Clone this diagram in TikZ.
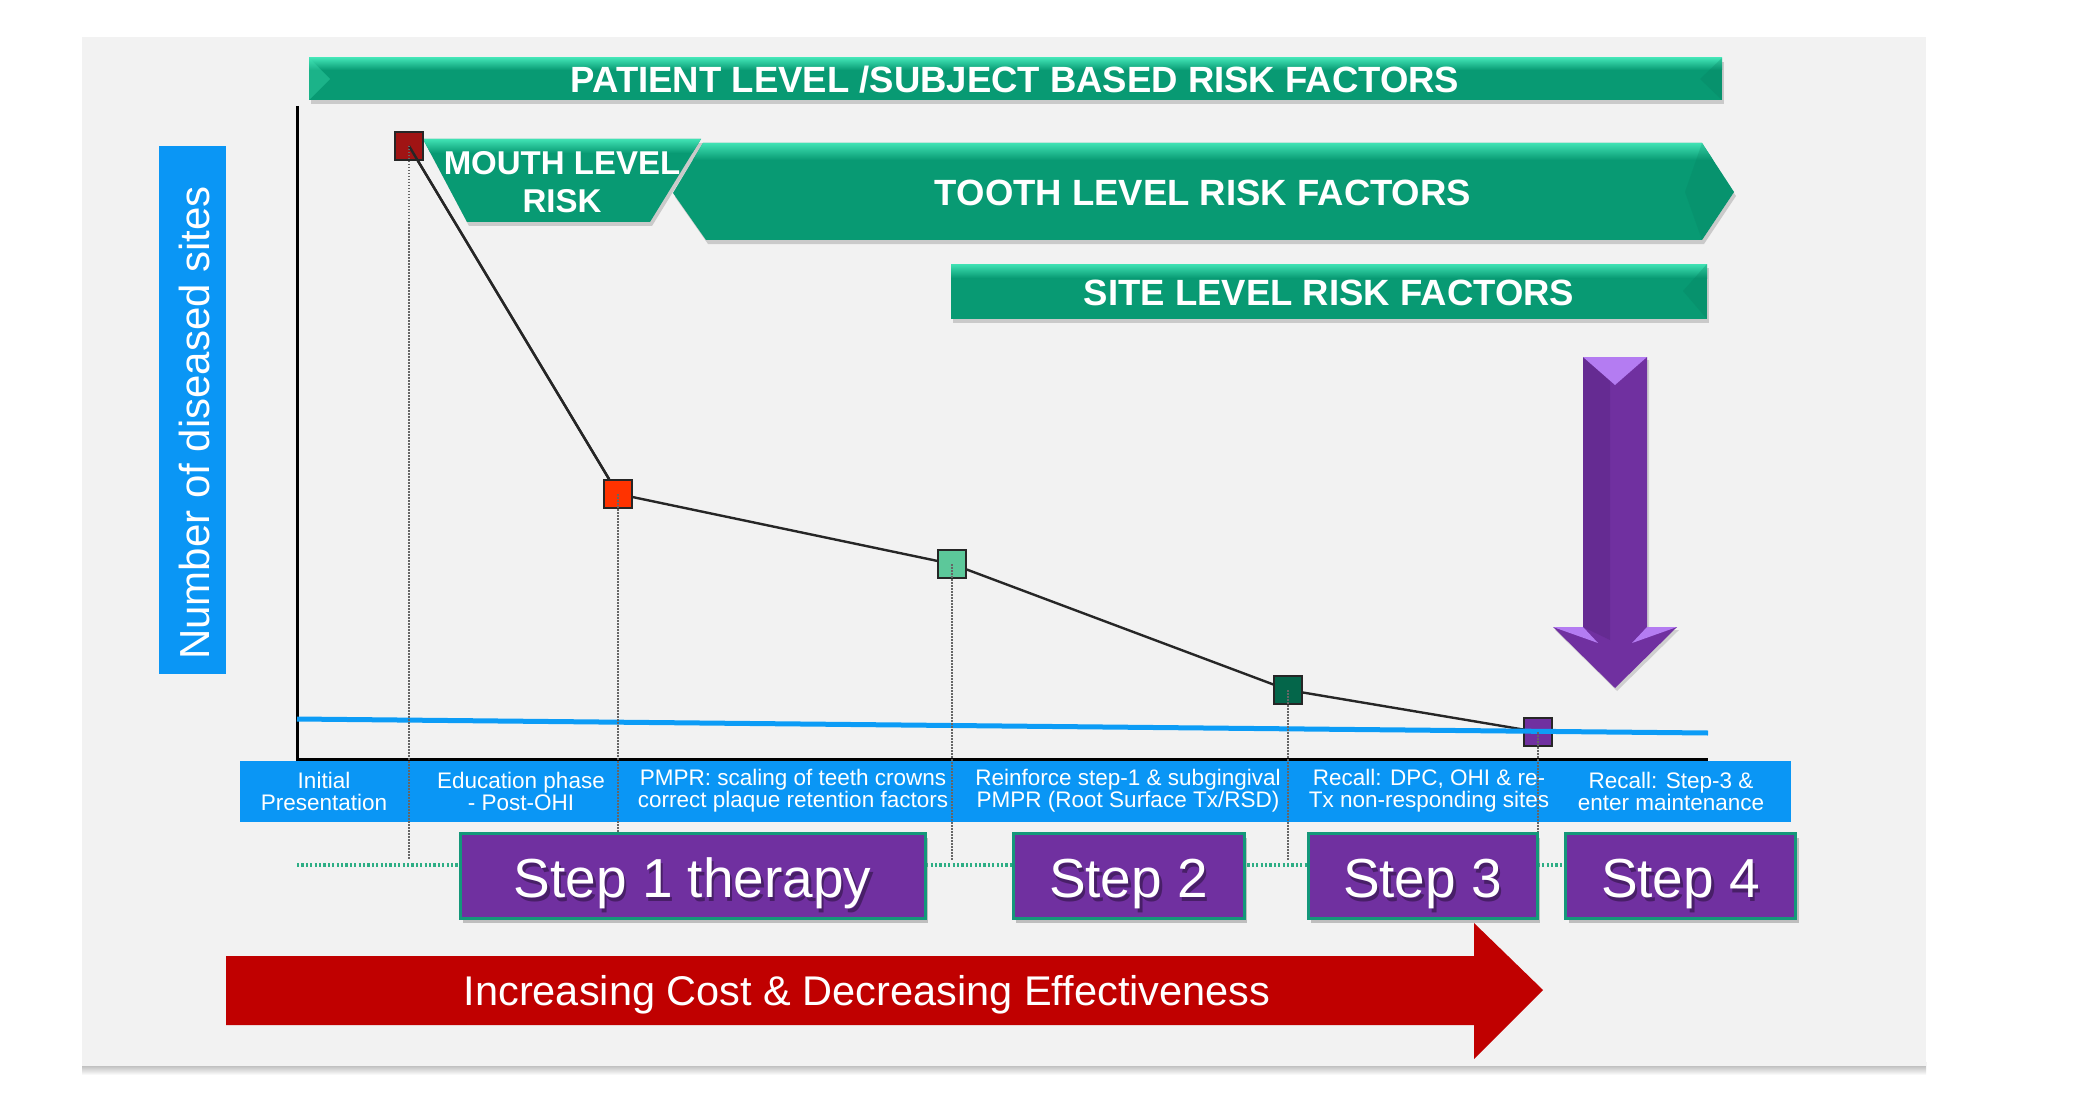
\documentclass[tikz,border=0pt]{standalone}
\usepackage{fontspec}
\setmainfont{Liberation Sans}
\usetikzlibrary{shadows,calc}
\definecolor{bgc}{HTML}{F2F2F2}
\definecolor{grn}{HTML}{089A73}
\definecolor{grnl}{HTML}{40E2B4}
\definecolor{blu}{HTML}{0A96F5}
\definecolor{bline}{HTML}{0C9CF6}
\definecolor{pur}{HTML}{7030A0}
\definecolor{purd}{HTML}{652B92}
\definecolor{purl}{HTML}{B47CF2}
\definecolor{redc}{HTML}{C00000}
\definecolor{stepb}{HTML}{14977A}
\definecolor{gdot}{HTML}{2EAE85}
\definecolor{mk0}{HTML}{A01414}
\definecolor{mk1}{HTML}{FF3300}
\definecolor{mk2}{HTML}{5CC89A}
\definecolor{mk3}{HTML}{04664A}
\begin{document}
\begin{tikzpicture}[x=1pt,y=-1pt,
  gshadow/.style={drop shadow={opacity=0.35,shadow xshift=2pt,shadow yshift=-4pt}},
  bartext/.style={text=white,font=\bfseries\fontsize{36.5}{40}\selectfont,inner sep=0pt},
  lbl/.style={text=white,align=center,font=\fontsize{22.5}{22}\selectfont,inner sep=0pt},
  mk/.style={draw=black!85,line width=2.2pt,minimum size=28pt,inner sep=0pt},
  stepbox/.style={fill=pur,draw=stepb,line width=3pt,minimum height=85pt,inner sep=0pt,
     drop shadow={opacity=0.45,shadow xshift=3pt,shadow yshift=-5pt}},
  sttext/.style={text=white,font=\fontsize{55}{60}\selectfont,inner sep=0pt,anchor=base},
  stshadow/.style={text=black,text opacity=0.35,font=\fontsize{55}{60}\selectfont,inner sep=0pt,anchor=base},
  vdot/.style={draw=black!60,line width=1.3pt,dash pattern=on 1.5pt off 1.5pt},
]
\useasboundingbox (0,0) rectangle (2080,1102);
\fill[white] (0,0) rectangle (2080,1102);
% panel
\shade[top color=black!35,bottom color=white] (82,1062) rectangle (1926,1075);
\fill[bgc] (82,37) rectangle (1926,1066);

% patient bar
\path[fill=grn,gshadow] (309,58) rectangle (1722,100);
\shade[top color=grnl,bottom color=grn] (309,58) rectangle (1722,70);
\fill[grn!80!black,opacity=0.25] (1722,58) -- (1700,79) -- (1722,100) -- cycle;
\fill[grnl,opacity=0.35] (309,58) -- (330,79) -- (309,100) -- cycle;
\node[bartext] (patient) at (1015,80) {PATIENT LEVEL /SUBJECT BASED RISK FACTORS};

% mouth trapezoid
\path[fill=grn,gshadow] (423,139) -- (701,139) -- (650,222) -- (467,222) -- cycle;
\begin{scope}
\clip (423,139) -- (701,139) -- (650,222) -- (467,222) -- cycle;
\shade[top color=grnl,bottom color=grn] (400,139) rectangle (720,153);
\end{scope}
\node[bartext,align=center,font=\bfseries\fontsize{33}{38}\selectfont] (mouth) at (562,182) {MOUTH LEVEL\\RISK};

% tooth arrow
\path[fill=grn,gshadow] (703,143) -- (1702,143) -- (1734,192) -- (1702,240) -- (706,240) -- (673,193) -- cycle;
\begin{scope}
\clip (703,143) -- (1702,143) -- (1734,192) -- (1702,240) -- (706,240) -- (673,193) -- cycle;
\shade[top color=grnl,bottom color=grn] (660,143) rectangle (1740,160);
\fill[grn!80!black,opacity=0.2] (1702,143) -- (1734,192) -- (1702,240) -- (1685,192) -- cycle;
\end{scope}
\node[bartext] (tooth) at (1203,193) {TOOTH LEVEL RISK FACTORS};

% site bar
\path[fill=grn,gshadow] (951,264) rectangle (1707,319);
\shade[top color=grnl,bottom color=grn] (951,264) rectangle (1707,278);
\fill[grn!80!black,opacity=0.25] (1707,264) -- (1683,291) -- (1707,319) -- cycle;
\node[bartext] (site) at (1329,293) {SITE LEVEL RISK FACTORS};

% y-axis label
\fill[blu] (159,146) rectangle (226,674);
\node[text=white,rotate=90,font=\fontsize{42}{46}\selectfont,inner sep=0pt] (ylab) at (194,423) {Number of diseased sites};

% purple down arrow
\path[fill=pur,drop shadow={opacity=0.3,shadow xshift=2pt,shadow yshift=-3pt}]
  (1583,357) -- (1647,357) -- (1647,627) -- (1677,627) -- (1615,688) -- (1553,627) -- (1583,627) -- cycle;
\fill[purd] (1583,357) -- (1610,357) -- (1610,640) -- (1583,627) -- cycle;
\fill[purl] (1583,357) -- (1647,357) -- (1615,385) -- cycle;
\fill[purl] (1553,627) -- (1583,627) -- (1598,643) -- cycle;
\fill[purl] (1677,627) -- (1647,627) -- (1632,643) -- cycle;

% axes
\coordinate (o) at (297,759);
\draw[line width=3pt] (297,106) -- (o) -- (1708,759);

% data points
\coordinate (c0) at (409,146);
\coordinate (c1) at (618,494);
\coordinate (c2) at (952,564);
\coordinate (c3) at (1288,690);
\coordinate (c4) at (1538,732);
\draw[line width=2.4pt,black!85] (c0) -- (c1) -- (c2) -- (c3) -- (c4);
\node[mk,fill=mk0] (p0) at (c0) {};
\node[mk,fill=mk1] (p1) at (c1) {};
\node[mk,fill=mk2] (p2) at (c2) {};
\node[mk,fill=mk3] (p3) at (c3) {};
\node[mk,fill=pur] (p4) at (c4) {};
\draw[line width=2.4pt,black!85] (p0.center) -- (p1);
% blue baseline
\draw[bline,line width=5pt] (297,719) -- (1708,733);

% label bar
\fill[blu] (240,761) rectangle (1791,822);
\node[lbl] (t0) at (324,791) {Initial\\Presentation};
\node[lbl] (t1) at (521,791) {Education phase\\- Post-OHI};
\node[lbl] (t2) at (793,791) {PMPR: scaling of teeth crowns\\correct plaque retention factors};
\node[lbl] (t3) at (1128,791) {Reinforce step-1 \& subgingival\\PMPR (Root Surface Tx/RSD)};
\node[lbl] (t4) at (1429,791) {Recall: DPC, OHI \& re-\\Tx non-responding sites};
\node[lbl] (t5) at (1671,791) {Recall: Step-3 \&\\enter maintenance};

% vertical dotted guides
\foreach \i in {0,...,4} {\draw[vdot] (p\i.center) -- (p\i.center |- 0,860);}

% green dotted line
\draw[gdot,line width=3.5pt,dash pattern=on 2.2pt off 2.2pt] (297,865) -- (1566,865);

% steps
\node[stepbox,minimum width=465pt] (s1) at (692.5,875.5) {};
\node[stepbox,minimum width=231pt] (s2) at (1128.5,875.5) {};
\node[stepbox,minimum width=229pt] (s3) at (1422.5,875.5) {};
\node[stepbox,minimum width=230pt] (s4) at (1680.5,875.5) {};
\foreach \s/\t in {s1/Step 1 therapy,s2/Step 2,s3/Step 3,s4/Step 4} {
  \node[stshadow] at ($(\s.center)+(2.5,25.5)$) {\t};
  \node[sttext] at ($(\s.center)+(0,22)$) {\t};
}

% red arrow
\fill[redc] (226,956) -- (1474,956) -- (1474,923) -- (1543,990) -- (1474,1059) -- (1474,1025) -- (226,1025) -- cycle;
\node[text=white,font=\fontsize{41.5}{46}\selectfont,inner sep=0pt,anchor=base] (cost) at (867,1005) {Increasing Cost \& Decreasing Effectiveness};
\end{tikzpicture}
\end{document}
